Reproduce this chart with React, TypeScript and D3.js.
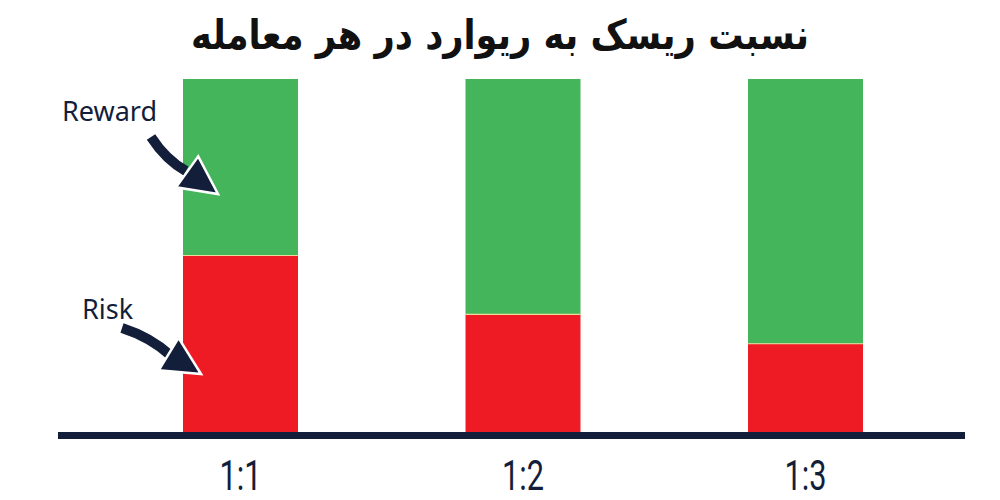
import React from 'react';
import * as d3 from 'd3';

// ratios on the x axis, risk and reward units per trade
const ratios = ['1:1', '1:2', '1:3'];
const riskValues = [1, 1, 1];
const rewardValues = [1, 2, 3];
const titleText = 'نسبت ریسک به ریوارد در هر معامله';

const WIDTH = 1000;
const HEIGHT = 500;
const GREEN = '#44b55a';
const RED = '#ee1b24';
const NAVY = '#131e3a';

const App: React.FC = () => {
    const svgRef = React.useRef<SVGSVGElement>(null);

    React.useEffect(() => {
        const svg = d3.select(svgRef.current);
        svg.selectAll('*').remove();

        const rows = ratios.map((r, i) => ({
            ratio: r,
            risk: riskValues[i] / (riskValues[i] + rewardValues[i]),
            reward: rewardValues[i] / (riskValues[i] + rewardValues[i])
        }));

        const x = d3.scaleBand().domain(ratios).range([183, 863]).paddingInner(0.593).paddingOuter(0);
        const y = d3.scaleLinear().domain([0, 1]).range([432, 79]);

        const stack = d3.stack<any>().keys(['risk', 'reward'])(rows);
        const colors: Record<string, string> = { risk: RED, reward: GREEN };

        svg.append('text')
          .attr('x', WIDTH / 2)
          .attr('y', 49)
          .attr('text-anchor', 'middle')
          .attr('direction', 'rtl')
          .attr('font-family', '"DejaVu Sans", "Noto Sans", sans-serif')
          .attr('font-weight', 'bold')
          .attr('font-size', 41)
          .attr('textLength', 618)
          .attr('lengthAdjust', 'spacingAndGlyphs')
          .attr('fill', '#111')
          .text(titleText);

        const layers = svg.selectAll('g.layer')
          .data(stack)
          .join('g')
          .attr('class', 'layer')
          .attr('fill', d => colors[d.key]);

        layers.selectAll('rect')
          .data(d => d)
          .join('rect')
          .attr('x', (d: any) => x(d.data.ratio)!)
          .attr('width', x.bandwidth())
          .attr('y', d => y(d[1]))
          .attr('height', d => y(d[0]) - y(d[1]));

        // thin light seam between risk and reward
        svg.selectAll('line.seam')
          .data(stack[0])
          .join('line')
          .attr('class', 'seam')
          .attr('x1', (d: any) => x(d.data.ratio)!)
          .attr('x2', (d: any) => x(d.data.ratio)! + x.bandwidth())
          .attr('y1', d => y(d[1]))
          .attr('y2', d => y(d[1]))
          .attr('stroke', '#eadb9c')
          .attr('stroke-width', 1.2);

        // baseline
        svg.append('line')
          .attr('x1', 58)
          .attr('x2', 965)
          .attr('y1', y(0) + 3.5)
          .attr('y2', y(0) + 3.5)
          .attr('stroke', NAVY)
          .attr('stroke-width', 7);

        svg.selectAll('text.tick')
          .data(ratios)
          .join('text')
          .attr('class', 'tick')
          .attr('x', d => x(d)! + x.bandwidth() / 2 - 21)
          .attr('y', 490)
          .attr('textLength', 42)
          .attr('lengthAdjust', 'spacingAndGlyphs')
          .attr('font-family', 'Roboto, sans-serif')
          .attr('font-weight', 400)
          .attr('font-size', 43)
          .attr('fill', NAVY)
          .text(d => d);

        // annotations pointing into the first bar
        const annotations = [
            { label: 'Reward', tx: 62, ty: 121, start: [151, 137], ctrl: [166, 160], end: [186, 171], tip: [218, 194] },
            { label: 'Risk', tx: 82, ty: 319, start: [122, 328], ctrl: [150, 337], end: [170, 355], tip: [201, 374] }
        ];

        annotations.forEach(a => {
            const g = svg.append('g');
            g.append('text')
              .attr('x', a.tx)
              .attr('y', a.ty)
              .attr('font-family', '"Noto Sans", sans-serif')
              .attr('font-size', 27)
              .attr('fill', NAVY)
              .text(a.label);
            const path = d3.path();
            path.moveTo(a.start[0], a.start[1]);
            path.quadraticCurveTo(a.ctrl[0], a.ctrl[1], a.end[0], a.end[1]);
            g.append('path')
              .attr('d', path.toString())
              .attr('fill', 'none')
              .attr('stroke', NAVY)
              .attr('stroke-width', 10)
              .attr('stroke-linecap', 'butt');
            // arrow head: triangle pointing along end->tip
            const tip = a.tip;
            const ang = Math.atan2(tip[1] - a.end[1], tip[0] - a.end[0]);
            const len = 38;
            const half = 19;
            const bx = tip[0] - len * Math.cos(ang);
            const by = tip[1] - len * Math.sin(ang);
            const pts = [
                tip,
                [bx + half * Math.sin(ang), by - half * Math.cos(ang)],
                [bx - half * Math.sin(ang), by + half * Math.cos(ang)]
            ];
            g.append('polygon')
              .attr('points', pts.map(p => p.join(',')).join(' '))
              .attr('fill', NAVY)
              .attr('stroke', '#fff')
              .attr('stroke-width', 2.5)
              .attr('stroke-linejoin', 'miter');
        });
    }, []);

    return (
        <div style={{ width: WIDTH, height: HEIGHT, margin: -8, background: '#fff' }}>
            <svg ref={svgRef} width={WIDTH} height={HEIGHT} style={{ display: 'block' }} />
        </div>
    );
};

export default App;
